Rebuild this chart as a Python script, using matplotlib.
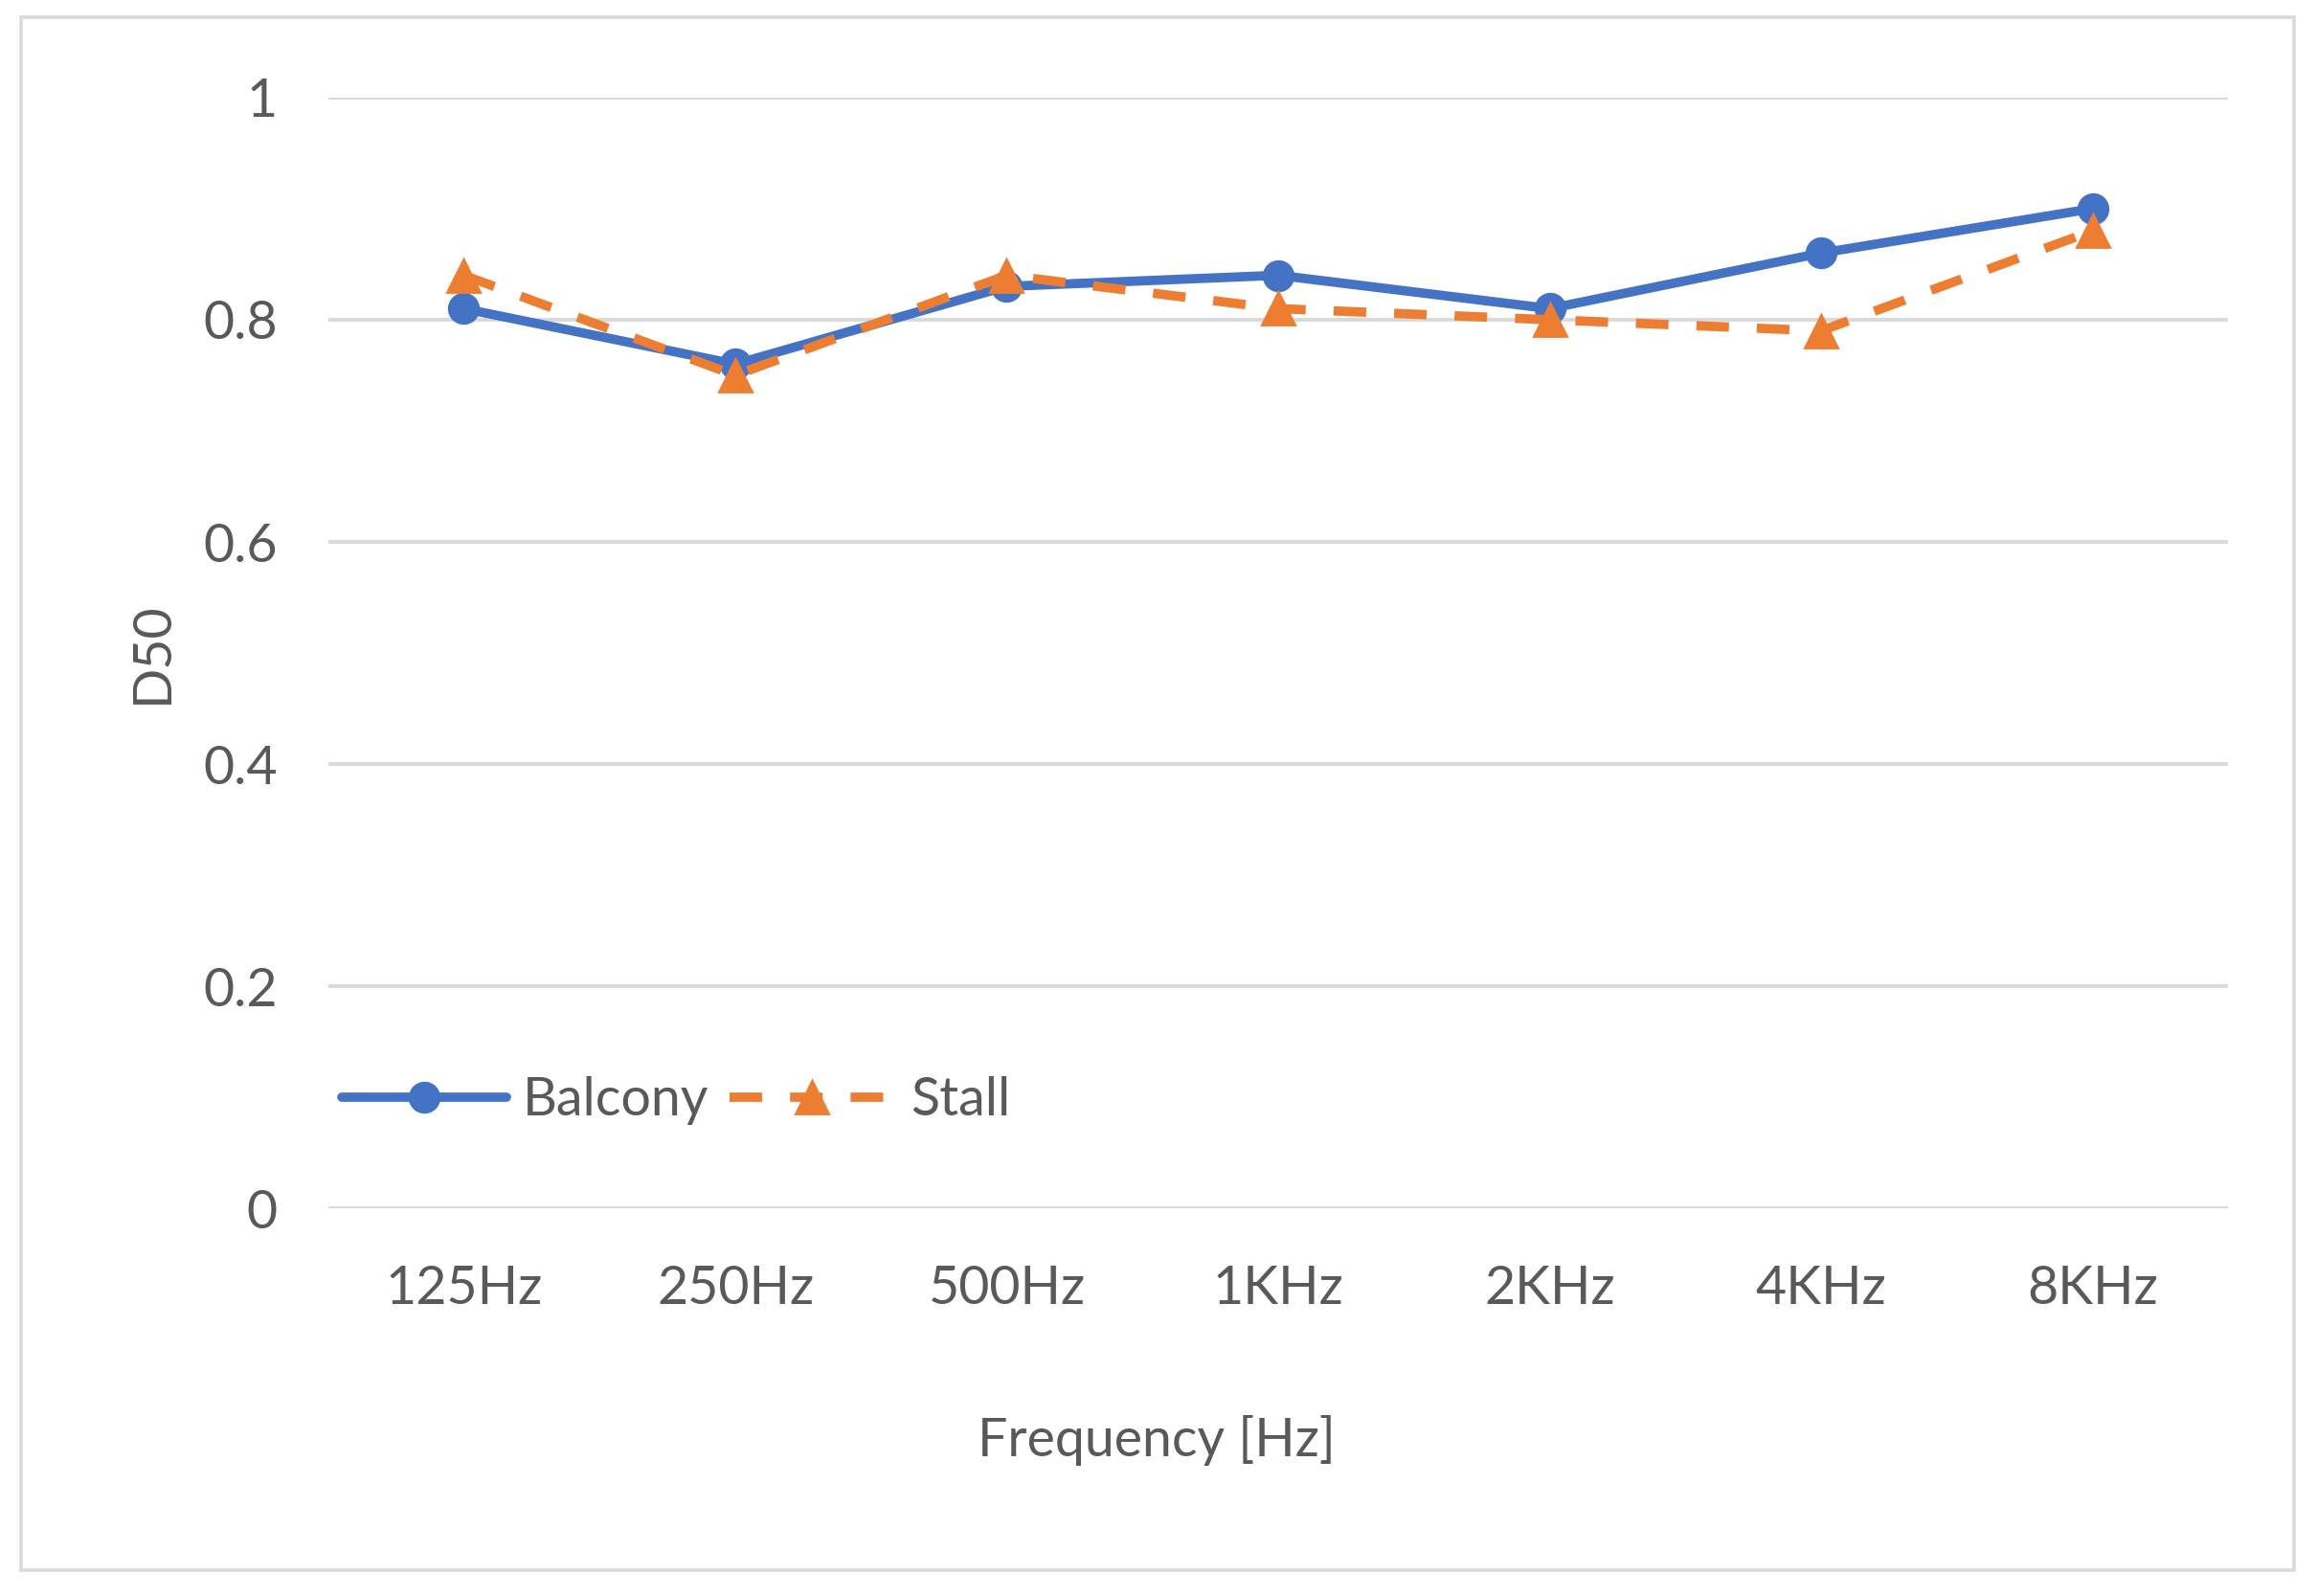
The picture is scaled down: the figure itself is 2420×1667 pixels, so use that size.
import matplotlib
matplotlib.use("Agg")
import matplotlib.pyplot as plt
from matplotlib.patches import Rectangle

# data
freqs = ["125Hz", "250Hz", "500Hz", "1KHz", "2KHz", "4KHz", "8KHz"]
balcony = [0.81, 0.76, 0.83, 0.84, 0.81, 0.86, 0.90]
stall = [0.84, 0.75, 0.84, 0.81, 0.80, 0.79, 0.88]
yticks = [0, 0.2, 0.4, 0.6, 0.8, 1]
ytick_labels = ["0", "0.2", "0.4", "0.6", "0.8", "1"]

BLUE = "#4472C4"
ORANGE = "#ED7D31"
TEXT = "#595959"
GRID = "#D9D9D9"
FS = 20

plt.rcParams['font.family'] = ['Lato', 'DejaVu Sans']

fig = plt.figure(figsize=(12.1, 8.335), dpi=200)
ax = fig.add_axes([0.1416, 0.2428, 0.8201, 0.6961])

x = list(range(len(freqs)))
ax.plot(x, balcony, color=BLUE, lw=3.5, marker='o', markersize=11,
        label="Balcony", solid_capstyle='round')
ax.plot(x, stall, color=ORANGE, lw=3.5, marker='^', markersize=12,
        dashes=(3.5, 3), label="Stall")

ax.set_xlim(-0.5, len(freqs) - 0.5)
ax.set_ylim(0, 1)
ax.set_xticks(x)
ax.set_xticklabels(freqs)
ax.set_yticks(yticks)
ax.set_yticklabels(ytick_labels)
ax.tick_params(axis='both', length=0, labelsize=FS, labelcolor=TEXT)
ax.tick_params(axis='y', pad=19)
ax.tick_params(axis='x', pad=21)
ax.grid(axis='y', color=GRID, lw=1.4)
ax.set_axisbelow(True)
for s in ax.spines.values():
    s.set_visible(False)

ax.legend(loc='center left', bbox_to_anchor=(0.007, 0.097), ncol=2,
          frameon=False, fontsize=FS, labelcolor=TEXT, handlelength=3.1,
          handletextpad=0.3, columnspacing=0.4, borderpad=0, borderaxespad=0)

fig.text(0.4993, 0.0974, "Frequency [Hz]", ha='center', va='center',
         fontsize=FS, color=TEXT)
fig.text(0.0657, 0.591, "D50", ha='center', va='center', rotation=90,
         fontsize=FS, color=TEXT)

# outer chart border
fig.patches.append(Rectangle((0.0089, 0.0162), 0.9811, 0.9728,
                             transform=fig.transFigure, fill=False,
                             edgecolor=GRID, lw=1.3))

fig.savefig("out.png", dpi=200)
